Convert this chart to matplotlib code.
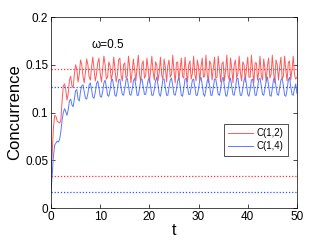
import numpy as np
import matplotlib
matplotlib.use('Agg')
import matplotlib.pyplot as plt

plt.rcParams['font.family'] = ['Liberation Sans', 'DejaVu Sans']

c12 = [
    0.033, 0.060, 0.085, 0.097, 0.096, 0.091, 0.090, 0.089, 0.092, 0.112, 0.128, 0.130,
    0.124, 0.113, 0.120, 0.134, 0.138, 0.128, 0.126, 0.140, 0.150, 0.145, 0.132, 0.140, 0.155,
    0.150, 0.138, 0.131, 0.142, 0.156, 0.150,
    0.137, 0.134, 0.148, 0.158, 0.146, 0.133,
    0.140, 0.152, 0.157, 0.141, 0.132, 0.145,
    0.159, 0.150, 0.135, 0.137, 0.153, 0.149,
    0.134, 0.141, 0.158, 0.146, 0.132, 0.139,
    0.155, 0.157, 0.139, 0.133, 0.150, 0.152,
    0.136, 0.138, 0.159, 0.148, 0.131, 0.143,
    0.156, 0.145, 0.133, 0.147, 0.160, 0.140,
    0.132, 0.151, 0.154, 0.136, 0.139, 0.157,
    0.146, 0.131, 0.144, 0.159, 0.143, 0.134,
    0.153, 0.150, 0.133, 0.142, 0.158, 0.139,
    0.135, 0.156, 0.147, 0.132, 0.149, 0.155,
    0.137, 0.140, 0.160, 0.144, 0.131, 0.152,
    0.153, 0.134, 0.145, 0.157, 0.138, 0.136,
    0.158, 0.143, 0.132, 0.150, 0.154, 0.135,
    0.141, 0.159, 0.140, 0.133, 0.155, 0.148,
    0.133, 0.148, 0.157, 0.137, 0.138, 0.160,
    0.141, 0.131, 0.154, 0.151, 0.134, 0.146,
    0.158, 0.136, 0.137, 0.159, 0.145, 0.132,
    0.151, 0.153, 0.133, 0.144, 0.160, 0.139,
    0.134, 0.157, 0.146, 0.131, 0.150, 0.155,
    0.136, 0.141, 0.159, 0.142, 0.133, 0.153,
    0.150, 0.132, 0.147, 0.158, 0.137, 0.137,
    0.160, 0.144, 0.131, 0.152, 0.152, 0.134,
    0.143, 0.159, 0.139, 0.134, 0.156, 0.146,
    0.132, 0.149, 0.157, 0.136, 0.140, 0.160,
    0.142, 0.131, 0.155, 0.150, 0.134, 0.148,
    0.158, 0.135, 0.138, 0.159, 0.144, 0.133,
    0.152, 0.154, 0.134, 0.145, 0.159, 0.140,
    0.135, 0.137,
]
c14 = [
    0.017, 0.035, 0.055, 0.066, 0.068, 0.070, 0.069, 0.072, 0.080, 0.092, 0.100, 0.104,
    0.101, 0.097, 0.103, 0.112, 0.114, 0.108, 0.106, 0.114, 0.123, 0.124, 0.114, 0.112, 0.122,
    0.128, 0.129, 0.122, 0.115, 0.114, 0.120,
    0.129, 0.131, 0.124, 0.116, 0.115, 0.121,
    0.130, 0.133, 0.126, 0.117, 0.116, 0.122,
    0.131, 0.134, 0.127, 0.118, 0.117, 0.123,
    0.133, 0.135, 0.127, 0.118, 0.117, 0.124,
    0.134, 0.135, 0.126, 0.119, 0.118, 0.125,
    0.134, 0.136, 0.128, 0.119, 0.118, 0.124,
    0.133, 0.136, 0.128, 0.118, 0.118, 0.125,
    0.135, 0.135, 0.127, 0.119, 0.119, 0.126,
    0.134, 0.136, 0.127, 0.118, 0.118, 0.124,
    0.133, 0.137, 0.129, 0.119, 0.117, 0.125,
    0.135, 0.135, 0.126, 0.118, 0.118, 0.126,
    0.134, 0.136, 0.128, 0.119, 0.118, 0.124,
    0.133, 0.137, 0.128, 0.118, 0.117, 0.125,
    0.135, 0.136, 0.127, 0.119, 0.119, 0.126,
    0.134, 0.135, 0.126, 0.118, 0.118, 0.125,
    0.134, 0.137, 0.129, 0.119, 0.117, 0.124,
    0.133, 0.136, 0.128, 0.118, 0.118, 0.126,
    0.135, 0.135, 0.127, 0.119, 0.118, 0.125,
    0.134, 0.137, 0.128, 0.118, 0.117, 0.124,
    0.133, 0.136, 0.127, 0.119, 0.118, 0.126,
    0.135, 0.136, 0.126, 0.118, 0.118, 0.125,
    0.134, 0.137, 0.129, 0.119, 0.117, 0.124,
    0.134, 0.135, 0.127, 0.118, 0.118, 0.126,
    0.135, 0.136, 0.128, 0.119, 0.118, 0.125,
    0.133, 0.137, 0.128, 0.118, 0.117, 0.125,
    0.135, 0.136, 0.127, 0.119, 0.118, 0.126,
    0.134, 0.136, 0.128, 0.118, 0.117, 0.124,
    0.134, 0.137, 0.127, 0.119, 0.118, 0.125,
    0.130, 0.120,
]
# dotted reference levels (red, blue)
levels12 = [0.146, 0.034]
levels14 = [0.127, 0.017]

t12 = np.linspace(0, 50, len(c12))
t14 = np.linspace(0, 50, len(c14))

red = '#ff5a5a'
blue = '#5a78ff'

fig = plt.figure(figsize=(3.27, 2.43), dpi=100)
ax = fig.add_axes([0.156, 0.144, 0.752, 0.786])

ax.plot(t12, c12, color=red, lw=0.7, label='C(1,2)')
ax.plot(t14, c14, color=blue, lw=0.7, label='C(1,4)')
for v in levels12:
    ax.plot([0, 50], [v, v], color='#ff3030', lw=0.9, ls=(0, (1, 1.5)))
for v in levels14:
    ax.plot([0, 50], [v, v], color='#3050ff', lw=0.9, ls=(0, (1, 1.5)))

ax.set_xlim(0, 50)
ax.set_ylim(0, 0.2)
ax.set_xticks([0, 10, 20, 30, 40, 50])
ax.set_yticks([0, 0.05, 0.1, 0.15, 0.2])
ax.set_yticklabels(['0', '0.05', '0.1', '0.15', '0.2'])
ax.tick_params(direction='in', top=True, right=True, labelsize=8.5, length=3, width=0.5, pad=2)
for s in ax.spines.values():
    s.set_linewidth(0.5)

ax.set_xlabel('t', fontsize=11.5, labelpad=0)
ax.set_ylabel('Concurrence', fontsize=12, labelpad=2)
ax.text(8.3, 0.168, '\u03c9=0.5', fontsize=8.5)

leg = ax.legend(loc='upper right', bbox_to_anchor=(0.962, 0.44), fontsize=7,
                frameon=True, fancybox=False, handlelength=2.6, handletextpad=0.3,
                borderpad=0.45, labelspacing=0.3, borderaxespad=0)
leg.get_frame().set_edgecolor('black')
leg.get_frame().set_linewidth(0.6)

fig.savefig('out.png', dpi=100)
